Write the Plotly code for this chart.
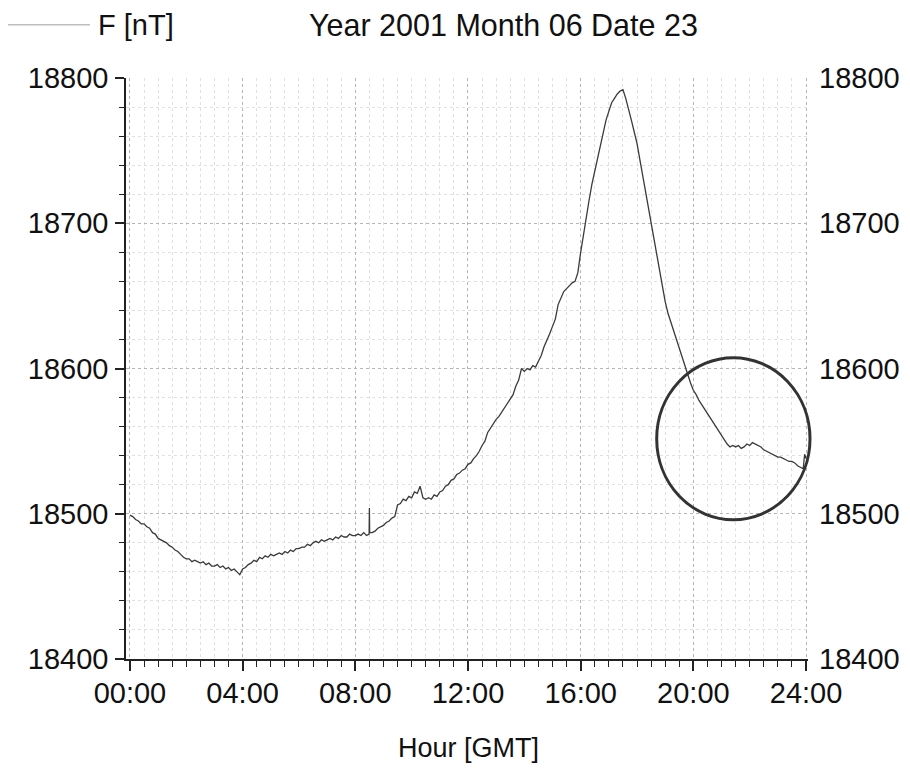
import plotly.graph_objects as go

# Time of day in hours (GMT)
hours = [
    0.0, 0.1, 0.2, 0.3, 0.4, 0.5, 0.6, 0.7, 0.8, 0.9,
    1.0, 1.1, 1.2, 1.3, 1.4, 1.5, 1.6, 1.7, 1.8, 1.9,
    2.0, 2.1, 2.2, 2.3, 2.4, 2.5, 2.6, 2.7, 2.8, 2.9,
    3.0, 3.1, 3.2, 3.3, 3.4, 3.5, 3.6, 3.7, 3.8, 3.9,
    4.0, 4.1, 4.2, 4.3, 4.4, 4.5, 4.6, 4.7, 4.8, 4.9,
    5.0, 5.1, 5.2, 5.3, 5.4, 5.5, 5.6, 5.7, 5.8, 5.9,
    6.0, 6.1, 6.2, 6.3, 6.4, 6.5, 6.6, 6.7, 6.8, 6.9,
    7.0, 7.1, 7.2, 7.3, 7.4, 7.5, 7.6, 7.7, 7.8, 7.9,
    8.0, 8.1, 8.2, 8.3, 8.4, 8.49, 8.5, 8.51, 8.6, 8.7, 8.8, 8.9,
    9.0, 9.1, 9.2, 9.3, 9.4, 9.5, 9.6, 9.7, 9.8, 9.9,
    10.0, 10.1, 10.2, 10.3, 10.4, 10.5, 10.6, 10.7, 10.8, 10.9,
    11.0, 11.1, 11.2, 11.3, 11.4, 11.5, 11.6, 11.7, 11.8, 11.9,
    12.0, 12.1, 12.2, 12.3, 12.4, 12.5, 12.6, 12.7, 12.8, 12.9,
    13.0, 13.1, 13.2, 13.3, 13.4, 13.5, 13.6, 13.7, 13.8, 13.9,
    14.0, 14.1, 14.2, 14.3, 14.4, 14.5, 14.6, 14.7, 14.8, 14.9,
    15.0, 15.1, 15.2, 15.3, 15.4, 15.5, 15.6, 15.7, 15.8, 15.9,
    16.0, 16.1, 16.2, 16.3, 16.4, 16.5, 16.6, 16.7, 16.8, 16.9,
    17.0, 17.1, 17.2, 17.3, 17.4, 17.5, 17.6, 17.7, 17.8, 17.9,
    18.0, 18.1, 18.2, 18.3, 18.4, 18.5, 18.6, 18.7, 18.8, 18.9,
    19.0, 19.1, 19.2, 19.3, 19.4, 19.5, 19.6, 19.7, 19.8, 19.9,
    20.0, 20.1, 20.2, 20.3, 20.4, 20.5, 20.6, 20.7, 20.8, 20.9,
    21.0, 21.1, 21.2, 21.3, 21.4, 21.5, 21.6, 21.7, 21.8, 21.9,
    22.0, 22.1, 22.2, 22.3, 22.4, 22.5, 22.6, 22.7, 22.8, 22.9,
    23.0, 23.1, 23.2, 23.3, 23.4, 23.5, 23.6, 23.7, 23.8, 23.9, 23.95, 24.0,
]

# Total field F [nT]
f_nt = [
    18499, 18498, 18496, 18495, 18493, 18493, 18491, 18490, 18487, 18486,
    18483, 18482, 18481, 18480, 18478, 18477, 18475, 18474, 18472, 18470,
    18469, 18469, 18467, 18468, 18467, 18466, 18467, 18465, 18466, 18464,
    18464, 18465, 18463, 18464, 18462, 18463, 18461, 18462, 18460, 18458,
    18462, 18463, 18465, 18466, 18468, 18467, 18470, 18469, 18471, 18470,
    18472, 18471, 18472, 18473, 18472, 18474, 18473, 18475, 18474, 18476,
    18476, 18477, 18477, 18479, 18478, 18480, 18481, 18480, 18482, 18481,
    18482, 18483, 18482, 18484, 18483, 18485, 18484, 18484, 18486, 18485,
    18485, 18486, 18485, 18487, 18485, 18486, 18504, 18487, 18487, 18488, 18490, 18491,
    18492, 18494, 18495, 18497, 18498, 18506, 18507, 18510, 18509, 18512,
    18511, 18515, 18514, 18519, 18511, 18510, 18511, 18510, 18513, 18512,
    18515, 18516, 18519, 18520, 18523, 18524, 18527, 18528, 18530, 18531,
    18534, 18535, 18538, 18540, 18543, 18547, 18550, 18556, 18559, 18562,
    18565, 18567, 18570, 18573, 18576, 18579, 18582, 18588, 18592, 18600,
    18598, 18600, 18599, 18602, 18601, 18605, 18609, 18615, 18619, 18624,
    18629, 18634, 18644, 18648, 18653, 18655, 18657, 18659, 18660, 18666,
    18680, 18693, 18705, 18716, 18727, 18736, 18746, 18755, 18764, 18771,
    18777, 18783, 18786, 18789, 18791, 18792, 18786, 18779, 18771, 18763,
    18755, 18744, 18733, 18722, 18711, 18698, 18687, 18677, 18667, 18656,
    18646, 18638, 18632, 18626, 18620, 18614, 18607, 18601, 18596, 18590,
    18585, 18582, 18578, 18575, 18572, 18569, 18566, 18563, 18560, 18557,
    18554, 18551, 18548, 18546, 18547, 18546, 18547, 18545, 18546, 18548,
    18547, 18549, 18548, 18547, 18546, 18544, 18543, 18542, 18541, 18540,
    18539, 18539, 18538, 18537, 18536, 18536, 18535, 18533, 18532, 18531, 18541, 18538,
]

x_tick_vals = [0, 4, 8, 12, 16, 20, 24]
x_tick_text = ["00:00", "04:00", "08:00", "12:00", "16:00", "20:00", "24:00"]
y_tick_vals = [18400, 18500, 18600, 18700, 18800]
y_tick_text = ["18400", "18500", "18600", "18700", "18800"]

FONT = "Liberation Sans, Arial, sans-serif"
FS = 29

# The page has an 8 px body margin, so the figure is drawn 8 px smaller and
# every target-page pixel position is shifted by that offset.
OFF = 8
FIG_W, FIG_H = 910 - OFF, 776 - OFF
L, R, T, B = 126 - OFF, 808 - OFF, 78.3 - OFF, 659.3 - OFF
W, H = R - L, B - T


def px(xp):
    return (xp - OFF - L) / W


def py(yp):
    return (B - (yp - OFF)) / H


fig = go.Figure()
fig.add_trace(go.Scatter(x=hours, y=f_nt, mode="lines",
                         line=dict(color="#3a3a3a", width=1.3),
                         showlegend=False, hoverinfo="x+y"))
fig.add_trace(go.Scatter(x=[0], y=[18400], yaxis="y2", mode="markers",
                         marker=dict(opacity=0), showlegend=False, hoverinfo="skip"))

fig.update_layout(
    template="none",
    width=FIG_W, height=FIG_H,
    margin=dict(l=L, r=FIG_W - R, t=T, b=FIG_H - B, pad=0, autoexpand=False),
    paper_bgcolor="white", plot_bgcolor="white",
    font=dict(family=FONT, size=FS, color="#111"),
    showlegend=False,
    xaxis=dict(range=[-0.14, 24.07], tickvals=x_tick_vals, ticktext=x_tick_text,
               automargin=False,
               showline=True, linecolor="#222", linewidth=1.5,
               ticks="outside", ticklen=10, tickwidth=1.5, tickcolor="#222",
               showgrid=True, gridcolor="#b5b5b5", griddash="dot", gridwidth=1,
               zeroline=False, ticklabelstandoff=-3,
               minor=dict(dtick=0.5, tick0=0, ticks="outside", ticklen=6, tickwidth=1.2,
                          tickcolor="#222", showgrid=True, gridcolor="#e0e0e0",
                          griddash="dot", gridwidth=1),
               tickfont=dict(size=FS)),
    yaxis=dict(range=[18400, 18800], tickvals=y_tick_vals, ticktext=y_tick_text,
               automargin=False,
               showline=True, linecolor="#222", linewidth=1.5,
               ticks="outside", ticklen=9, tickwidth=1.5, tickcolor="#222",
               showgrid=True, gridcolor="#b5b5b5", griddash="dot", gridwidth=1,
               zeroline=False, ticklabelstandoff=1,
               minor=dict(dtick=20, tick0=18400, ticks="outside", ticklen=5, tickwidth=1.2,
                          tickcolor="#222", showgrid=True, gridcolor="#e0e0e0",
                          griddash="dot", gridwidth=1),
               tickfont=dict(size=FS)),
    yaxis2=dict(range=[18400, 18800], tickvals=y_tick_vals, ticktext=y_tick_text,
                overlaying="y", side="right", automargin=False,
                showline=False, ticks="", showgrid=False, zeroline=False,
                ticklabelstandoff=10, tickfont=dict(size=FS)),
    shapes=[
        dict(type="circle", xref="paper", yref="paper",
             x0=px(656.7), x1=px(810), y0=py(520), y1=py(358),
             line=dict(color="#333", width=3)),
        dict(type="line", xref="paper", yref="paper",
             x0=px(8), x1=px(90), y0=py(25), y1=py(25),
             line=dict(color="#bdbdbd", width=1.5)),
    ],
    annotations=[
        dict(text="F [nT]", xref="paper", yref="paper",
             x=px(96), y=py(25), xanchor="left", yanchor="middle",
             showarrow=False, font=dict(size=FS)),
        dict(text="Year 2001 Month 06 Date 23", xref="paper", yref="paper",
             x=px(503.5), y=py(25), xanchor="center", yanchor="middle",
             showarrow=False, font=dict(size=30.5)),
        dict(text="Hour [GMT]", xref="paper", yref="paper",
             x=px(468), y=py(748), xanchor="center", yanchor="middle",
             showarrow=False, font=dict(size=27)),
    ],
)

fig.write_html("out.html")
